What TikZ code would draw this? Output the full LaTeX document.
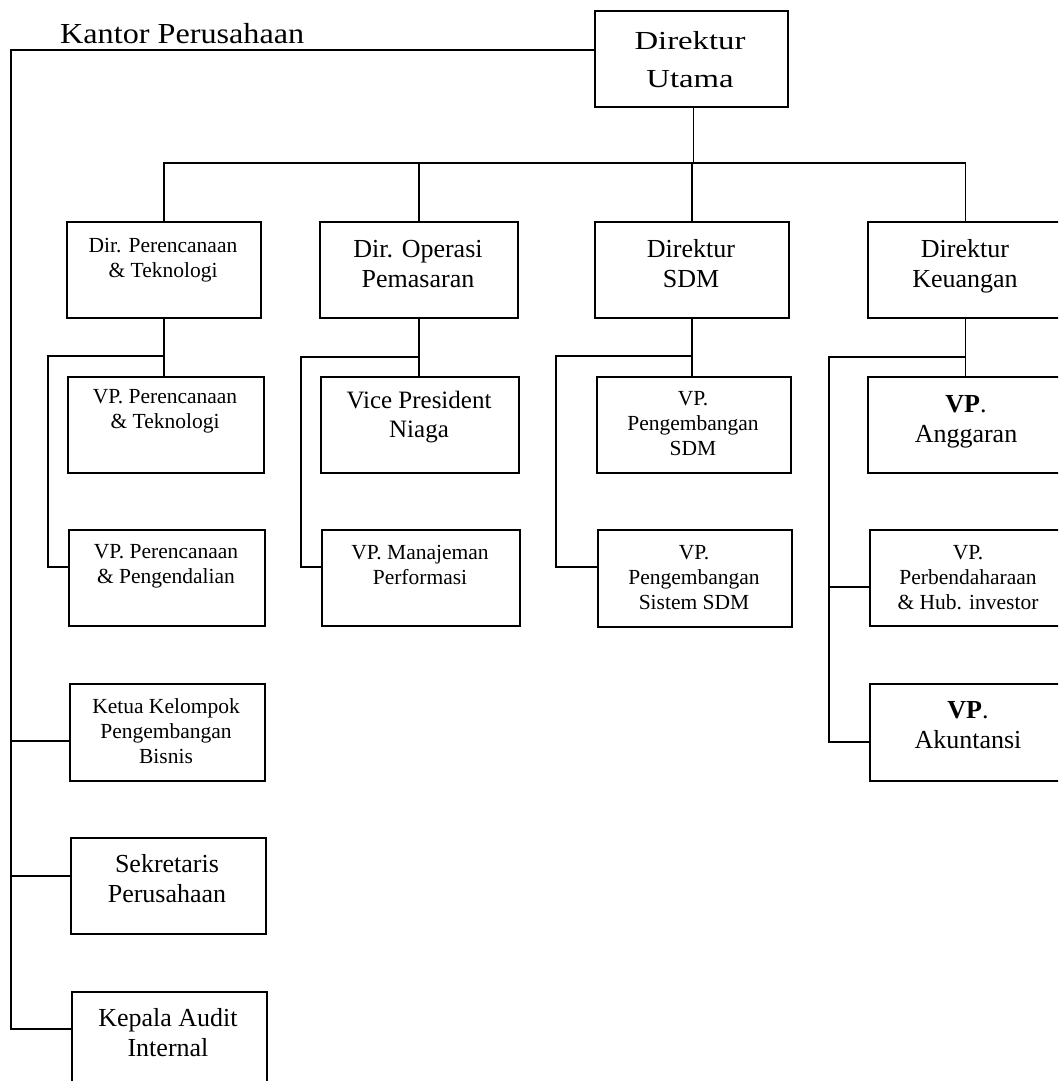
\documentclass[tikz,border=0pt]{standalone}
\usepackage{fontspec}
\setmainfont{Liberation Serif}
\usepackage{graphicx}
\usetikzlibrary{calc}
\newcommand{\mlines}[1]{\begin{tabular}[t]{@{}c@{}}#1\end{tabular}}
\newcommand{\fsS}{\fontsize{21.5}{25}\selectfont}
\newcommand{\fsM}{\fontsize{26}{30}\selectfont}
\begin{document}
\begin{tikzpicture}[x=1pt,y=-1pt,
  orgbox/.style={draw, line width=2pt, inner sep=0pt, anchor=north west},
  lbl/.style={anchor=base, inner sep=0pt},
  link/.style={line width=1.7pt}]
\useasboundingbox (0,0) rectangle (1058,1081);
\fill[white] (0,0) rectangle (1058,1081);
\clip (0,0) rectangle (1058,1081);

% ---------- boxes ----------
\node[orgbox, minimum width=193pt, minimum height=96pt] (utama) at (594,10) {};
\node[orgbox, minimum width=194pt, minimum height=96pt] (dpt)   at (66,221) {};
\node[orgbox, minimum width=198pt, minimum height=96pt] (dop)   at (319,221) {};
\node[orgbox, minimum width=194pt, minimum height=96pt] (dsdm)  at (594,221) {};
\node[orgbox, minimum width=195pt, minimum height=96pt] (dkeu)  at (867,221) {};

\node[orgbox, minimum width=196pt, minimum height=96pt] (vpt)   at (67,376) {};
\node[orgbox, minimum width=198pt, minimum height=96pt] (vpn)   at (320,376) {};
\node[orgbox, minimum width=194pt, minimum height=96pt] (vpsdm) at (596,376) {};
\node[orgbox, minimum width=195pt, minimum height=96pt] (vpang) at (867,376) {};

\node[orgbox, minimum width=196pt, minimum height=96pt] (vpp)   at (68,529) {};
\node[orgbox, minimum width=198pt, minimum height=96pt] (vpm)   at (321,529) {};
\node[orgbox, minimum width=194pt, minimum height=97pt] (vpss)  at (597,529) {};
\node[orgbox, minimum width=195pt, minimum height=96pt] (vphub) at (869,529) {};

\node[orgbox, minimum width=195pt, minimum height=97pt] (ketua) at (69,683) {};
\node[orgbox, minimum width=195pt, minimum height=97pt] (vpak)  at (869,683) {};
\node[orgbox, minimum width=195pt, minimum height=96pt] (sek)   at (70,837) {};
\node[orgbox, minimum width=195pt, minimum height=97pt] (kep)   at (71,991) {};

% ---------- texts ----------
\node[lbl, anchor=base west, font=\fontsize{29}{33}\selectfont] (kantor) at (60,44)
  {\scalebox{1.11}[1]{Kantor Perusahaan}};
\node[lbl, font=\fontsize{26}{37}\selectfont] (tutama) at (690,50)
  {\scalebox{1.26}[1]{\mlines{Direktur\\Utama}}};

\node[lbl, font=\fsS] (tdpt)  at (163,252) {\mlines{Dir. Perencanaan\\\& Teknologi}};
\node[lbl, font=\fsM] (tdop)  at (418,257) {\mlines{Dir. Operasi\\Pemasaran}};
\node[lbl, font=\fsM] (tdsdm) at (691,257) {\mlines{Direktur\\SDM}};
\node[lbl, font=\fsM] (tdkeu) at (965,257) {\mlines{Direktur\\Keuangan}};

\node[lbl, font=\fsS] (tvpt)   at (165,403) {\mlines{VP. Perencanaan\\\& Teknologi}};
\node[lbl, font=\fontsize{25}{29}\selectfont] (tvpn) at (419,408) {\mlines{Vice President\\Niaga}};
\node[lbl, font=\fsS] (tvpsdm) at (693,405) {\mlines{VP.\\Pengembangan\\SDM}};
\node[lbl, font=\fsM] (tvpang) at (966,412) {\mlines{\textbf{VP}.\\Anggaran}};

\node[lbl, font=\fsS] (tvpp)   at (166,558) {\mlines{VP. Perencanaan\\\& Pengendalian}};
\node[lbl, font=\fsS] (tvpm)   at (420,559) {\mlines{VP. Manajeman\\Performasi}};
\node[lbl, font=\fsS] (tvpss)  at (694,559) {\mlines{VP.\\Pengembangan\\Sistem SDM}};
\node[lbl, font=\fsS] (tvphub) at (968,559) {\mlines{VP.\\Perbendaharaan\\\& Hub. investor}};

\node[lbl, font=\fsS] (tketua) at (166,713) {\mlines{Ketua Kelompok\\Pengembangan\\Bisnis}};
\node[lbl, font=\fsM] (tvpak)  at (968,718) {\mlines{\textbf{VP}.\\Akuntansi}};
\node[lbl, font=\fsM] (tsek)   at (167,872) {\mlines{Sekretaris\\Perusahaan}};
\node[lbl, font=\fsM] (tkep)   at (168,1026) {\mlines{Kepala Audit\\Internal}};

% ---------- junction coordinates ----------
\coordinate (bus) at (0,163);
\coordinate (lefttop) at (11,50);
\coordinate (leftbot) at (11,1029);
\coordinate (udrop) at ($(utama.south)+(2,0)$);

% ---------- connectors ----------
% Kantor Perusahaan line and staff units
\draw[link] (utama.west |- lefttop) -- (lefttop) -- (leftbot) -- (kep.west |- leftbot);
\draw[link] (11,741) -- (ketua.west |- 0,741);
\draw[link] (11,876) -- (sek.west |- 0,876);

% Direktur Utama to directors
\draw[link] (udrop) -- (udrop |- bus);
\draw[link] (dpt.north) -- (dpt.north |- bus) -| (dkeu.north);
\draw[link] (dop.north) -- (dop.north |- bus);
\draw[link] (dsdm.north) -- (dsdm.north |- bus);

% Dir. Perencanaan & Teknologi
\draw[link] (dpt.south) -- (dpt.south |- vpt.north);
\draw[link] (dpt.south |- 0,356) -- (48,356) -- (48,567) -- (vpp.west |- 0,567);

% Dir. Operasi Pemasaran
\draw[link] (dop.south) -- (dop.south |- vpn.north);
\draw[link] (dop.south |- 0,357) -- (301,357) -- (301,567) -- (vpm.west |- 0,567);

% Direktur SDM
\draw[link] (dsdm.south) -- (dsdm.south |- vpsdm.north);
\draw[link] (dsdm.south |- 0,356) -- (556,356) -- (556,567) -- (vpss.west |- 0,567);

% Direktur Keuangan
\draw[link] (dkeu.south) -- (dkeu.south |- vpang.north);
\draw[link] (dkeu.south |- 0,357) -- (829,357) -- (829,742) -- (vpak.west |- 0,742);
\draw[link] (829,587) -- (vphub.west |- 0,587);
\end{tikzpicture}
\end{document}
